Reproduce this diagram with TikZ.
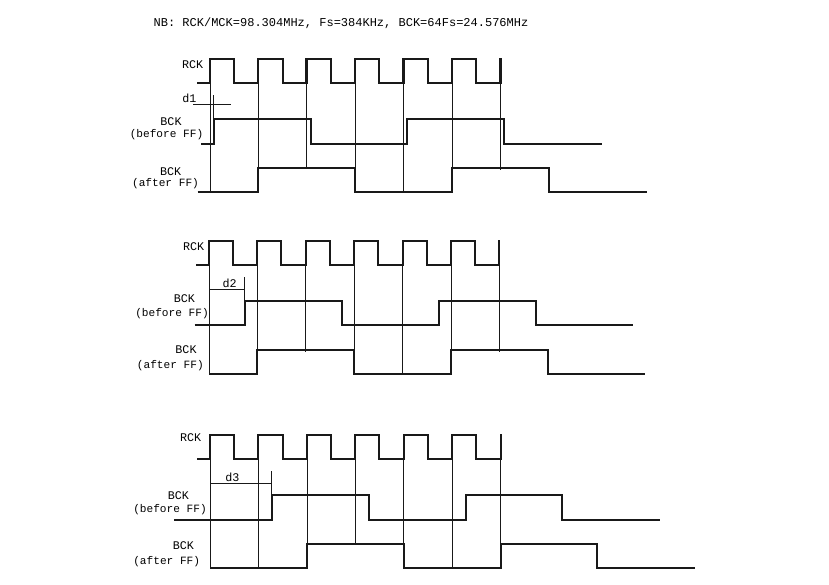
\documentclass[tikz,border=0pt]{standalone}
\usepackage{fontspec}
\setmainfont{Liberation Mono}
\tikzstyle{wave} = [draw=black!90, line width=1.85pt, line join=miter]
\tikzstyle{guide} = [draw=black!90, line width=0.7pt]
\tikzstyle{lbl} = [inner sep=0pt, font={\fontsize{10}{12}\selectfont}]
\tikzstyle{fflbl} = [inner sep=0pt, font={\fontsize{9.5}{12}\selectfont}]
\tikzstyle{note} = [inner sep=0pt, font={\fontsize{10.25}{12}\selectfont}]
\begin{document}
\begin{tikzpicture}[x=0.03cm,y=-0.03cm]
    \useasboundingbox (0,0) rectangle (829,585);
    \node[note](title) at (341,23.5){NB: RCK/MCK=98.304MHz, Fs=384KHz, BCK=64Fs=24.576MHz};

    \node[lbl](rck1) at (192.7,65){RCK};
    \node[lbl](d1) at (189.5,98.5){d1};
    \node[lbl](bckb1) at (171,121.7){BCK};
    \node[fflbl](ffb1) at (166.5,135){(before FF)};
    \node[lbl](bcka1) at (170.7,172){BCK};
    \node[fflbl](ffa1) at (165.5,183.5){(after FF)};
    \foreach \x/\y in {210/192,258.3/169,306.5/169,355.3/192,403.5/192,452/192,500.5/170}
        \draw[guide] (\x,82.7) -- (\x,\y);
    \draw[guide] (193,104) -- (231,104);
    \draw[guide] (213.7,95) -- (213.7,118);
    \draw[wave] (197,82.7) -| (210,59) -| (234,82.7) -| (258,59) -| (283,82.7) -| (306.5,59) -| (331,82.7) -| (355,59) -| (379,82.7) -| (403.5,59) -| (428,82.7) -| (452,59) -| (476,82.7) -| (500.5,58);
    \draw[wave] (201,143.7) -| (214.3,118.7) -| (311,143.7) -| (407.3,118.7) -| (504,143.7) -- (602,143.7);
    \draw[wave] (197.7,191.7) -| (258.3,168.3) -| (355.3,191.7) -| (452,168.3) -| (549,191.7) -- (647,191.7);

    \node[lbl](rck2) at (193.7,246.7){RCK};
    \node[lbl](d2) at (229.7,283.7){d2};
    \node[lbl](bckb2) at (184.3,299){BCK};
    \node[fflbl](ffb2) at (172,313.3){(before FF)};
    \node[lbl](bcka2) at (186,350){BCK};
    \node[fflbl](ffa2) at (170.3,366){(after FF)};
    \foreach \x/\y in {209/374,257/351,305.7/351.7,354.3/374,402.7/374,451/374,499.3/351.7}
        \draw[guide] (\x,264.7) -- (\x,\y);
    \draw[guide] (209,289.3) -- (244.3,289.3);
    \draw[guide] (244.3,277.3) -- (244.3,301);
    \draw[wave] (196,264.7) -| (209,240.7) -| (233.3,264.7) -| (257,240.7) -| (281.3,264.7) -| (305.7,240.7) -| (330,264.7) -| (354.3,240.7) -| (378.3,264.7) -| (402.7,240.7) -| (427,264.7) -| (451,240.7) -| (475,264.7) -| (499.3,240);
    \draw[wave] (194.7,325) -| (245.3,301) -| (342,325) -| (439,301) -| (536,325) -- (633.3,325);
    \draw[wave] (209,374) -| (257.3,350) -| (354,374) -| (451,350) -| (548,374) -- (645,374);

    \node[lbl](rck3) at (190.7,437.3){RCK};
    \node[lbl](d3) at (232.3,477.3){d3};
    \node[lbl](bckb3) at (178.3,495.7){BCK};
    \node[fflbl](ffb3) at (170,509.7){(before FF)};
    \node[lbl](bcka3) at (183.3,545.7){BCK};
    \node[fflbl](ffa3) at (166.7,562){(after FF)};
    \foreach \x/\y in {210.3/568,258.3/568,307/545,355.3/545,403.7/568,452/568,500.7/568}
        \draw[guide] (\x,458.7) -- (\x,\y);
    \draw[guide] (210.3,483.7) -- (271.3,483.7);
    \draw[guide] (271.3,471) -- (271.3,495);
    \draw[wave] (197.3,458.7) -| (210.3,435) -| (234.3,458.7) -| (258.3,435) -| (283,458.7) -| (307,435) -| (331.3,458.7) -| (355.3,435) -| (379.3,458.7) -| (403.7,435) -| (428,458.7) -| (452,435) -| (476,458.7) -| (500.7,434);
    \draw[wave] (174.3,520) -| (272.3,495) -| (368.7,520) -| (465.7,495) -| (562.3,520) -- (659.7,520);
    \draw[wave] (210,568) -| (307,543.7) -| (403.7,568) -| (501,543.7) -| (597,568) -- (695,568);
\end{tikzpicture}
\end{document}
